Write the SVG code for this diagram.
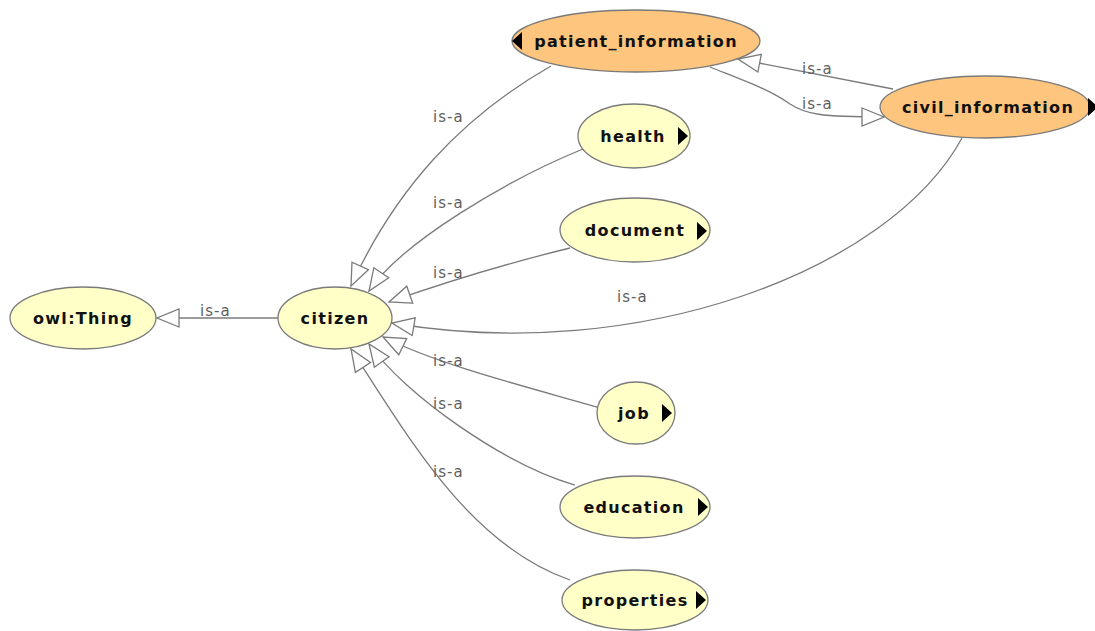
<svg xmlns="http://www.w3.org/2000/svg" width="1095" height="631" viewBox="0 0 1095 631">
  <style>
    .cls-yellow { fill: #ffffc8; stroke: #7a7a7a; stroke-width: 1.3; }
    .cls-orange { fill: #fdc57d; stroke: #7a7a7a; stroke-width: 1.3; }
    .name { font-family: "DejaVu Sans", "Liberation Sans", sans-serif; font-weight: bold; font-size: 16px; letter-spacing: 1.3px; fill: #111; text-anchor: middle; }
    .expand { fill: #000; }
    .edge { fill: none; stroke: #7a7a7a; stroke-width: 1.3; marker-end: url(#isa); }
    .lbl { font-family: "DejaVu Sans", "Liberation Sans", sans-serif; font-size: 15px; letter-spacing: 1px; fill: #5f5f5f; }
  </style>
  <defs>
    <!-- hollow triangle head for subclass (is-a) links -->
    <marker id="isa" markerUnits="userSpaceOnUse" markerWidth="26" markerHeight="22" refX="22" refY="9" orient="auto" overflow="visible">
      <path d="M0,0 L22,9 L0,18 Z" fill="#fff" stroke="#7a7a7a" stroke-width="1.3" stroke-linejoin="miter"/>
    </marker>
  </defs>

  <rect width="1095" height="631" fill="#fff"/>

  <!-- class nodes -->
  <g id="node-owl-thing">
    <ellipse class="cls-yellow" cx="83" cy="318" rx="73" ry="31"/>
    <text class="name" x="83" y="324">owl:Thing</text>
  </g>
  <g id="node-citizen">
    <ellipse class="cls-yellow" cx="335" cy="318" rx="57" ry="31"/>
    <text class="name" x="335" y="324">citizen</text>
  </g>
  <g id="node-patient-information">
    <ellipse class="cls-orange" cx="636" cy="41" rx="124" ry="31"/>
    <path class="expand" d="M512,41 L522,32 L522,50 Z"/>
    <text class="name" x="636" y="47">patient_information</text>
  </g>
  <g id="node-civil-information">
    <ellipse class="cls-orange" cx="985" cy="107" rx="105" ry="31"/>
    <path class="expand" d="M1088,98 L1098,107 L1088,116 Z"/>
    <text class="name" x="988" y="113">civil_information</text>
  </g>
  <g id="node-health">
    <ellipse class="cls-yellow" cx="634" cy="136" rx="56" ry="32"/>
    <path class="expand" d="M678,127 L688,136 L678,145 Z"/>
    <text class="name" x="633" y="142">health</text>
  </g>
  <g id="node-document">
    <ellipse class="cls-yellow" cx="635" cy="230" rx="75" ry="32"/>
    <path class="expand" d="M697,222 L707,231 L697,240 Z"/>
    <text class="name" x="635" y="236">document</text>
  </g>
  <g id="node-job">
    <ellipse class="cls-yellow" cx="636" cy="413" rx="39" ry="31"/>
    <path class="expand" d="M662,404 L672,413 L662,422 Z"/>
    <text class="name" x="634" y="419">job</text>
  </g>
  <g id="node-education">
    <ellipse class="cls-yellow" cx="635" cy="507" rx="75" ry="31"/>
    <path class="expand" d="M698,498 L708,507 L698,516 Z"/>
    <text class="name" x="634" y="513">education</text>
  </g>
  <g id="node-properties">
    <ellipse class="cls-yellow" cx="635" cy="600" rx="73" ry="30"/>
    <path class="expand" d="M696,591 L706,600 L696,609 Z"/>
    <text class="name" x="635" y="606">properties</text>
  </g>

  <!-- is-a connectors (child to parent) -->
  <g id="connectors">
    <path class="edge" d="M278,318 L157,318"/>
    <text class="lbl" x="200" y="316">is-a</text>

    <path class="edge" d="M551,66 C460,118 395,190 351,286"/>
    <text class="lbl" x="433" y="122">is-a</text>

    <path class="edge" d="M583,149 C509,179 402,242 369,291"/>
    <text class="lbl" x="433" y="208">is-a</text>

    <path class="edge" d="M570,248 Q480,270 389,302"/>
    <text class="lbl" x="433" y="278">is-a</text>

    <path class="edge" d="M962,138 C890,270 640,365 392,323"/>
    <text class="lbl" x="617" y="302">is-a</text>

    <path class="edge" d="M597,407 C520,385 440,365 383,337"/>
    <text class="lbl" x="433" y="366">is-a</text>

    <path class="edge" d="M575,485 C505,465 405,395 369,344"/>
    <text class="lbl" x="433" y="409">is-a</text>

    <path class="edge" d="M570,580 C470,545 410,440 351,349"/>
    <text class="lbl" x="433" y="477">is-a</text>

    <path class="edge" d="M893,89 L738,59"/>
    <text class="lbl" x="802" y="74">is-a</text>

    <path class="edge" d="M710,67 C750,83 770,90 790,104 C805,114 820,117 884,117"/>
    <text class="lbl" x="802" y="109">is-a</text>
  </g>
</svg>
